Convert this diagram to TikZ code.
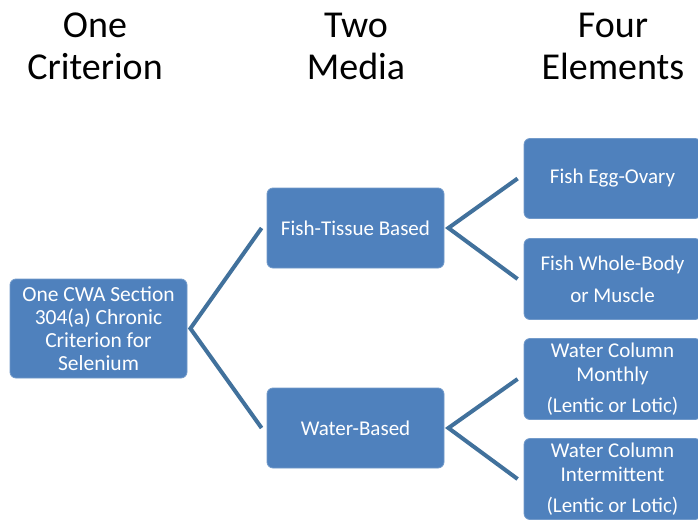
\documentclass[tikz,border=0pt]{standalone}
\usepackage{fontspec}
\setmainfont{Carlito}
\definecolor{boxblue}{HTML}{4F81BD}
\definecolor{linkblue}{HTML}{41719C}
\begin{document}
\begin{tikzpicture}[x=1pt,y=-1pt,
  header/.style={align=center,font=\fontsize{38}{42}\selectfont,text=black,inner sep=0pt},
  box/.style={fill=boxblue,draw=boxblue!80!white,line width=0.8pt,rounded corners=6pt,
    minimum width=177pt,minimum height=80pt,text=white,align=center,inner sep=0pt,
    font=\fontsize{21}{24}\selectfont},
  link/.style={draw=linkblue,line width=4pt}]
\clip (0,0) rectangle (698,519);
\fill[white] (0,0) rectangle (698,519);
% headers
\node[header] (h1) at (95,46) {One\\Criterion};
\node[header] (h2) at (356,46) {Two\\Media};
\node[header] (h3) at (613,46) {Four\\Elements};
% boxes
\node[box,minimum height=99pt,font=\fontsize{21.5}{23}\selectfont] (root) at (98.5,328.5) {One CWA Section\\304(a) Chronic\\Criterion for\\Selenium};
\node[box,minimum height=80pt] (ft) at (355.5,228) {Fish-Tissue Based};
\node[box,minimum height=80pt] (wb) at (355.5,428) {Water-Based};
\node[box,minimum height=80pt] (e1) at (612.5,178.5) {Fish Egg-Ovary};
\node[box,minimum height=81pt] (e2) at (612.5,279) {Fish Whole-Body\\[8pt]or Muscle};
\node[box,minimum height=81pt] (e3) at (612.5,379) {Water Column\\Monthly\\[7pt](Lentic or Lotic)};
\node[box,minimum height=81pt] (e4) at (612.5,479) {Water Column\\Intermittent\\[7pt](Lentic or Lotic)};
% fork points
\coordinate (f0) at ([xshift=3pt]root.east);
\coordinate (f1) at ([xshift=4pt]ft.east);
\coordinate (f2) at ([xshift=4pt]wb.east);
% connectors
\draw[link] ([xshift=-5pt]ft.west) -- (f0) -- ([xshift=-5pt]wb.west);
\draw[link] ([xshift=-6pt]e1.west) -- (f1) -- ([xshift=-6pt]e2.west);
\draw[link] ([xshift=-6pt]e3.west) -- (f2) -- ([xshift=-6pt]e4.west);
\end{tikzpicture}
\end{document}
